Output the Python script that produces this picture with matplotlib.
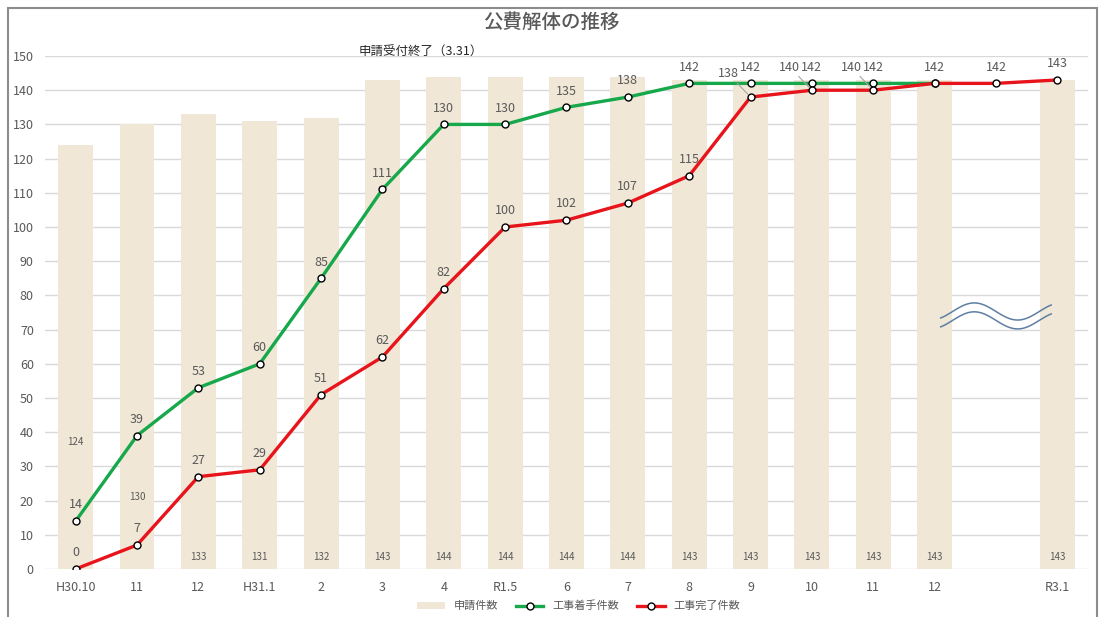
import numpy as np
import matplotlib
matplotlib.use("Agg")
import matplotlib.pyplot as plt
from matplotlib.patches import Rectangle
from matplotlib.lines import Line2D
from matplotlib.patches import Patch

plt.rcParams['font.family'] = ['Noto Sans CJK JP', 'DejaVu Sans']

categories = ["H30.10", "11", "12", "H31.1", "2", "3", "4", "R1.5", "6", "7", "8",
              "9", "10", "11", "12", "", "R3.1"]
applications = [124, 130, 133, 131, 132, 143, 144, 144, 144, 144, 143,
                143, 143, 143, 143, np.nan, 143]
started = [14, 39, 53, 60, 85, 111, 130, 130, 135, 138, 142,
           142, 142, 142, 142, np.nan, np.nan]
completed = [0, 7, 27, 29, 51, 62, 82, 100, 102, 107, 115,
             138, 140, 140, 142, 142, 143]

BAR = "#F0E7D6"
GREEN = "#16A84B"
RED = "#E8141B"
TXT = "#595959"

fig = plt.figure(figsize=(11.02, 6.17), dpi=100)
ax = fig.add_axes([0.0408, 0.0778, 0.9465, 0.8314])

x = np.arange(len(categories))
ax.bar(x, applications, width=0.57, color=BAR, zorder=1)
ax.plot(x, started, color=GREEN, lw=2.4, marker='o', ms=5, mfc='white',
        mec='black', mew=1, zorder=3)
ax.plot(x, completed, color=RED, lw=2.4, marker='o', ms=5, mfc='white',
        mec='black', mew=1, zorder=4)

ax.set_xlim(-0.5, len(categories) - 0.5)
ax.set_ylim(0, 150)
ax.set_yticks(np.arange(0, 151, 10))
ax.set_xticks(x)
ax.set_xticklabels(categories)
ax.tick_params(axis='both', length=0, labelsize=9, colors=TXT)
ax.tick_params(axis='y', pad=8)
ax.tick_params(axis='x', pad=9)
ax.grid(axis='y', color='#D9D9D9', lw=1, zorder=0)
ax.set_axisbelow(True)
for s in ax.spines.values():
    s.set_visible(False)

# bar labels
for i, v in enumerate(applications):
    if np.isnan(v):
        continue
    ypos = 3.5
    if i == 0:
        ypos = 37
    elif i == 1:
        ypos = 21
    ax.text(i, ypos, f"{int(v)}", ha='center', va='center', fontsize=7, color=TXT)

# green labels
for i, v in enumerate(started):
    if np.isnan(v):
        continue
    ax.annotate(f"{int(v)}", (i, v), xytext=(0, 7), textcoords='offset points',
                ha='center', va='bottom', fontsize=9, color=TXT)

# red labels
for i, v in enumerate(completed):
    if i == 14:
        continue
    if i in (11, 12, 13):
        ax.annotate(f"{int(v)}", (i, v), xytext=(-16, 12), textcoords='offset points',
                    ha='center', va='bottom', fontsize=9, color=TXT,
                    arrowprops=dict(arrowstyle='-', color='#A6A6A6', lw=0.8,
                                    shrinkA=0, shrinkB=3))
    else:
        ax.annotate(f"{int(v)}", (i, v), xytext=(0, 7), textcoords='offset points',
                    ha='center', va='bottom', fontsize=9, color=TXT)

# wave (break) symbol
t = np.linspace(-0.86, 2 * np.pi + 0.86, 100)
wx = np.linspace(14.1, 15.9, 100)
ax.plot(wx, 75.3 + 2.5 * np.sin(t), color='#5E7EA3', lw=1.1, zorder=5)
ax.plot(wx, 72.7 + 2.5 * np.sin(t), color='#5E7EA3', lw=1.1, zorder=5)

# title and note
fig.text(0.5, 0.963, "公費解体の推移", ha='center', va='center', fontsize=14,
         color=TXT, fontweight='medium')
fig.text(0.325, 0.915, "申請受付終了（3.31）", ha='left', va='center', fontsize=9,
         color='#262626')

# legend
handles = [Patch(facecolor=BAR, edgecolor='none'),
           Line2D([], [], color=GREEN, lw=2.4, marker='o', ms=5, mfc='white', mec='black'),
           Line2D([], [], color=RED, lw=2.4, marker='o', ms=5, mfc='white', mec='black')]
fig.legend(handles, ["申請件数", "工事着手件数", "工事完了件数"], loc='center',
           bbox_to_anchor=(0.525, 0.018), ncol=3, frameon=False, fontsize=8,
           labelcolor=TXT, handlelength=2.5, columnspacing=1.6, handleheight=0.6)

# chart border
fig.patches.append(Rectangle((8 / 1102, -0.05), (1097 - 8) / 1102, 1.05 - 8 / 617,
                             transform=fig.transFigure, fill=False,
                             edgecolor='#8C8C8C', lw=1.5))

fig.savefig("out.png", dpi=100)
